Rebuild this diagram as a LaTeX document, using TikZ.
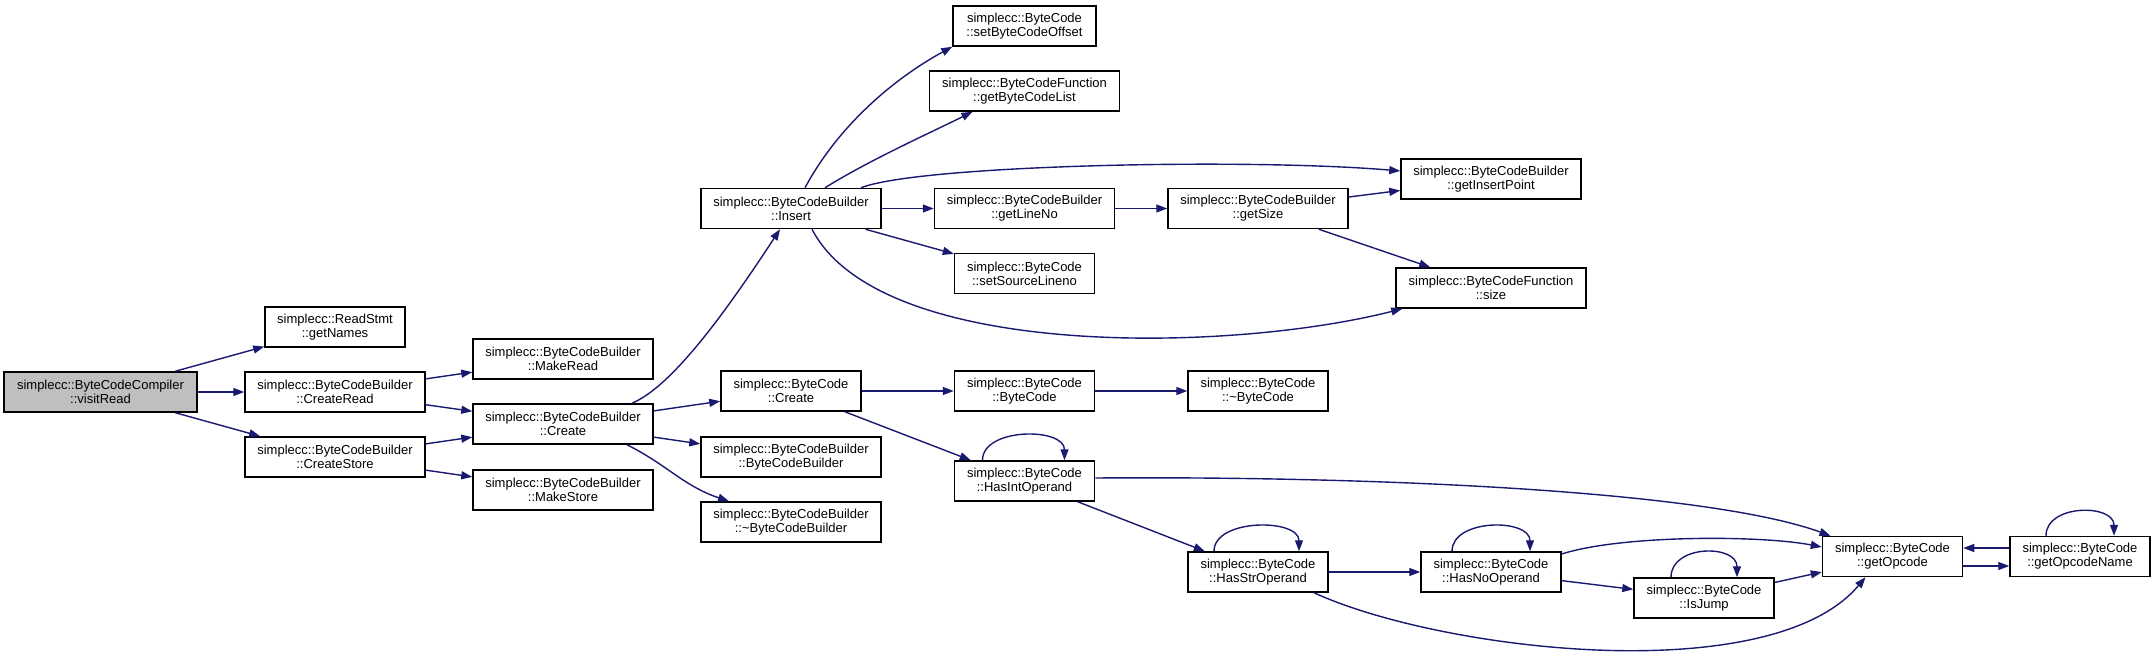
\documentclass[tikz,border=0pt]{standalone}
\usepackage{fontspec}
\setmainfont{Liberation Sans}
\usetikzlibrary{arrows.meta}
\definecolor{callblue}{HTML}{191970}
\definecolor{curgray}{HTML}{BFBFBF}

\begin{document}
\begin{tikzpicture}[x=1pt, y=-1pt,
        fnbox/.style={draw=black, line width=1.5pt, fill=white, inner sep=0pt, minimum height=40pt, align=center, font=\fontsize{13}{14}\selectfont},
        call/.style={callblue, line width=1.4pt, -{Triangle[length=11pt, width=8pt]}}]
                \useasboundingbox (0,0) rectangle (2156,656);

                \node[fnbox, fill=curgray, minimum width=193pt] (visitRead) at (100.5,392) {simplecc::ByteCodeCompiler\\::visitRead};

                \node[fnbox, minimum width=140pt] (getNames) at (335,327) {simplecc::ReadStmt\\::getNames};
                \node[fnbox, minimum width=180pt] (createRead) at (335,392) {simplecc::ByteCodeBuilder\\::CreateRead};
                \node[fnbox, minimum width=180pt] (createStore) at (335,457) {simplecc::ByteCodeBuilder\\::CreateStore};

                \node[fnbox, minimum width=180pt] (makeRead) at (563,359) {simplecc::ByteCodeBuilder\\::MakeRead};
                \node[fnbox, minimum width=180pt] (bCreate) at (563,424) {simplecc::ByteCodeBuilder\\::Create};
                \node[fnbox, minimum width=180pt] (makeStore) at (563,490) {simplecc::ByteCodeBuilder\\::MakeStore};

                \node[fnbox, minimum width=180pt] (insert) at (791,208.5) {simplecc::ByteCodeBuilder\\::Insert};
                \node[fnbox, minimum width=140pt] (bcCreate) at (791,391) {simplecc::ByteCode\\::Create};
                \node[fnbox, minimum width=180pt] (bbCtor) at (791,457) {simplecc::ByteCodeBuilder\\::ByteCodeBuilder};
                \node[fnbox, minimum width=180pt] (bbDtor) at (791,522) {simplecc::ByteCodeBuilder\\::\textasciitilde ByteCodeBuilder};

                \node[fnbox, minimum width=143pt] (setOffset) at (1024.5,26) {simplecc::ByteCode\\::setByteCodeOffset};
                \node[fnbox, minimum width=190pt] (getList) at (1024.5,91) {simplecc::ByteCodeFunction\\::getByteCodeList};
                \node[fnbox, minimum width=180pt] (getLineNo) at (1024.5,208.5) {simplecc::ByteCodeBuilder\\::getLineNo};
                \node[fnbox, minimum width=140pt] (setLineno) at (1024.5,273.5) {simplecc::ByteCode\\::setSourceLineno};
                \node[fnbox, minimum width=140pt] (bcCtor) at (1024.5,391) {simplecc::ByteCode\\::ByteCode};
                \node[fnbox, minimum width=140pt] (hasInt) at (1024.5,481) {simplecc::ByteCode\\::HasIntOperand};

                \node[fnbox, minimum width=180pt] (getSize) at (1258,208.5) {simplecc::ByteCodeBuilder\\::getSize};
                \node[fnbox, minimum width=140pt] (bcDtor) at (1258,391) {simplecc::ByteCode\\::\textasciitilde ByteCode};
                \node[fnbox, minimum width=140pt] (hasStr) at (1258,572) {simplecc::ByteCode\\::HasStrOperand};

                \node[fnbox, minimum width=180pt] (getInsertPoint) at (1491,179) {simplecc::ByteCodeBuilder\\::getInsertPoint};
                \node[fnbox, minimum width=190pt] (fnSize) at (1491,288) {simplecc::ByteCodeFunction\\::size};
                \node[fnbox, minimum width=140pt] (hasNo) at (1491,572) {simplecc::ByteCode\\::HasNoOperand};

                \node[fnbox, minimum width=140pt] (isJump) at (1704,598) {simplecc::ByteCode\\::IsJump};
                \node[fnbox, minimum width=140pt] (getOpcode) at (1892.5,556.5) {simplecc::ByteCode\\::getOpcode};
                \node[fnbox, minimum width=140pt] (getOpcodeName) at (2080,556.5) {simplecc::ByteCode\\::getOpcodeName};

                \draw[call] (visitRead) -- (getNames);
                \draw[call] (visitRead) -- (createRead);
                \draw[call] (visitRead) -- (createStore);
                \draw[call] (createRead) -- (makeRead);
                \draw[call] (createRead) -- (bCreate);
                \draw[call] (createStore) -- (bCreate);
                \draw[call] (createStore) -- (makeStore);

                \draw[call] ([xshift=69pt]bCreate.north) .. controls +(40,-17) and +(-55,84) .. ([xshift=-11pt]insert.south);
                \draw[call] (bCreate) -- (bcCreate);
                \draw[call] (bCreate) -- (bbCtor);
                \draw[call] ([xshift=64pt]bCreate.south) .. controls +(40,20) and +(-45,-15) .. ([xshift=-62pt]bbDtor.north);

                \draw[call] ([xshift=14pt]insert.north) .. controls +(35,-65) and +(-55,30) .. (setOffset.south west);
                \draw[call] ([xshift=34pt]insert.north) .. controls +(45,-28) and +(-40,20) .. ([xshift=-52pt]getList.south);
                \draw[call] ([xshift=70pt]insert.north) .. controls +(59,-23) and +(-151,-13) .. ([yshift=8pt]getInsertPoint.west);
                \draw[call] (insert) -- (getLineNo);
                \draw[call] (insert) -- (setLineno);
                \draw[call] ([xshift=21pt]insert.south) .. controls +(68,131) and +(-173,44) .. ([xshift=7pt]fnSize.south west);

                \draw[call] (getLineNo) -- (getSize);
                \draw[call] (getSize) -- (getInsertPoint);
                \draw[call] (getSize) -- (fnSize);

                \draw[call] (bcCreate) -- (bcCtor);
                \draw[call] (bcCtor) -- (bcDtor);
                \draw[call] (bcCreate) -- (hasInt);

                \draw[call] ([xshift=-42pt]hasInt.north) .. controls +(0,-33) and +(0,-33) .. ([xshift=40pt]hasInt.north);
                \draw[call] ([yshift=3pt]hasInt.east) .. controls +(255,-2) and +(-130,-47) .. ([xshift=-62pt]getOpcode.north);
                \draw[call] (hasInt) -- (hasStr);

                \draw[call] ([xshift=-44pt]hasStr.north) .. controls +(0,-33) and +(0,-33) .. ([xshift=41pt]hasStr.north);
                \draw[call] (hasStr) -- (hasNo);
                \draw[call] ([xshift=56pt]hasStr.south) .. controls +(126,58) and +(-95,113) .. ([xshift=-27pt]getOpcode.south);

                \draw[call] ([xshift=-39pt]hasNo.north) .. controls +(0,-33) and +(0,-33) .. ([xshift=39pt]hasNo.north);
                \draw[call] ([yshift=18pt]hasNo.east) .. controls +(59,-19) and +(-62,-12) .. ([yshift=9.5pt]getOpcode.west);
                \draw[call] (hasNo) -- (isJump);

                \draw[call] ([xshift=-33pt]isJump.north) .. controls +(0,-33) and +(0,-33) .. ([xshift=33pt]isJump.north);
                \draw[call] (isJump) -- (getOpcode);

                \draw[call] ([yshift=-9.5pt]getOpcode.east) -- ([yshift=-9.5pt]getOpcodeName.west);
                \draw[call] ([yshift=8.5pt]getOpcodeName.west) -- ([yshift=8.5pt]getOpcode.east);
                \draw[call] ([xshift=-34pt]getOpcodeName.north) .. controls +(0,-32) and +(0,-32) .. ([xshift=34pt]getOpcodeName.north);
            \end{tikzpicture}
\end{document}
